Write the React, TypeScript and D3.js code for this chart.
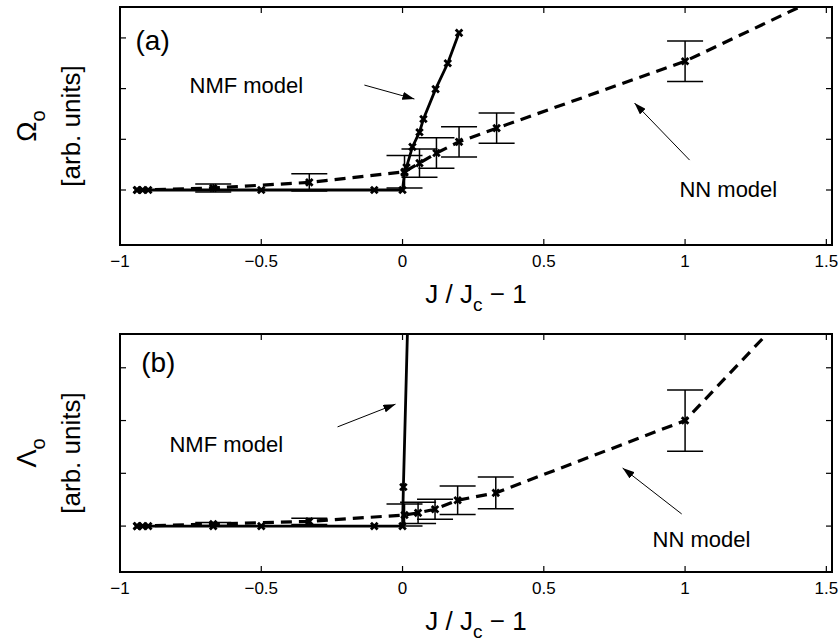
import React from 'react';
import * as d3 from 'd3';

const xTicks = [-1, -0.5, 0, 0.5, 1, 1.5];
const yTicks = [0, 1, 2, 3];

// panel (a): Omega_o
const nmfAX = [-0.94, -0.92, -0.9, -0.5, -0.1, 0, 0.007, 0.014, 0.035, 0.06, 0.074, 0.117, 0.16, 0.2];
const nmfAY = [0, 0, 0, 0, 0, 0, 0.34, 0.45, 0.85, 1.14, 1.4, 1.99, 2.5, 3.1];
const nnAX = [-0.94, -0.67, -0.33, 0.007, 0.06, 0.12, 0.2, 0.333, 1.0, 1.5];
const nnAY = [0, 0.04, 0.15, 0.36, 0.53, 0.73, 0.95, 1.22, 2.54, 3.86];
const nnAErr = [0, 0.08, 0.17, 0.32, 0.28, 0.3, 0.3, 0.3, 0.4, 0];

// panel (b): Lambda_o
const nmfBX = [-0.94, -0.92, -0.9, -0.67, -0.5, -0.1, 0, 0.003, 0.02];
const nmfBY = [0, 0, 0, 0, 0, 0, 0, 0.74, 4.21];
const nnBX = [-0.94, -0.67, -0.33, 0.007, 0.055, 0.115, 0.195, 0.33, 1.0, 1.5];
const nnBY = [0, 0.04, 0.09, 0.21, 0.25, 0.32, 0.49, 0.63, 2.0, 4.83];
const nnBErr = [0, 0.03, 0.06, 0.21, 0.2, 0.19, 0.27, 0.3, 0.58, 0];

// annotations in data units: [x, y]
const tagA = { text: '(a)', at: [-0.945, 2.76] };
const tagB = { text: '(b)', at: [-0.925, 2.92] };
const nmfLabelA = { text: 'NMF model', at: [-0.754, 1.91], from: [-0.135, 2.07], to: [0.042, 1.795] };
const nnLabelA = { text: 'NN model', at: [0.98, -0.14], from: [1.016, 0.59], to: [0.821, 1.716] };
const nmfLabelB = { text: 'NMF model', at: [-0.825, 1.4], from: [-0.23, 1.88], to: [-0.025, 2.31] };
const nnLabelB = { text: 'NN model', at: [0.885, -0.4], from: [0.988, 0.23], to: [0.779, 1.1] };

const FONT = '"Liberation Sans", Arial, Helvetica, sans-serif';
const W = 840;
const H = 642;

const x = d3.scaleLinear().domain([-1, 1.52]).range([120, 832]);

const panels = [
  {
    id: 'a', top: 7, bottom: 245, yDomain: [-1.085, 3.61], sym: 'Ω',
    nmf: nmfAX.map((v, i) => [v, nmfAY[i]]),
    nn: nnAX.map((v, i) => [v, nnAY[i], nnAErr[i]]),
    tag: tagA, notes: [nmfLabelA, nnLabelA],
  },
  {
    id: 'b', top: 334, bottom: 572, yDomain: [-0.87, 3.64], sym: 'Λ',
    nmf: nmfBX.map((v, i) => [v, nmfBY[i]]),
    nn: nnBX.map((v, i) => [v, nnBY[i], nnBErr[i]]),
    tag: tagB, notes: [nmfLabelB, nnLabelB],
  },
];

const cross = (s) => `M${-s},${-s}L${s},${s}M${-s},${s}L${s},${-s}`;
const fmt = d3.format('~g');

function Panel({ p }) {
  const y = d3.scaleLinear().domain(p.yDomain).range([p.bottom, p.top]);
  const line = d3.line().x((d) => x(d[0])).y((d) => y(d[1]));
  const [x0, x1] = x.range();
  const cx = (x0 + x1) / 2;
  const cy = (p.top + p.bottom) / 2;
  const clip = `clip-${p.id}`;
  return (
    <g>
      <defs>
        <clipPath id={clip}>
          <rect x={x0} y={p.top} width={x1 - x0} height={p.bottom - p.top} />
        </clipPath>
      </defs>

      <g clipPath={`url(#${clip})`}>
        {/* error bars */}
        {p.nn.filter((d) => d[2] > 0).map((d, i) => {
          const px = x(d[0]);
          const t = y(d[1] + d[2]);
          const b = y(d[1] - d[2]);
          return (
            <g key={i} stroke="#000" strokeWidth={1.5}>
              <line x1={px} x2={px} y1={t} y2={b} />
              <line x1={px - 18} x2={px + 18} y1={t} y2={t} />
              <line x1={px - 18} x2={px + 18} y1={b} y2={b} />
            </g>
          );
        })}
        <path d={line(p.nmf)} fill="none" stroke="#000" strokeWidth={2.8} />
        <path d={line(p.nn)} fill="none" stroke="#000" strokeWidth={3.2} strokeDasharray="11,7" />
        {p.nmf.concat(p.nn).map((d, i) => (
          <path key={i} transform={`translate(${x(d[0])},${y(d[1])})`} d={cross(3.3)}
            stroke="#000" strokeWidth={2.8} fill="none" />
        ))}
      </g>

      {/* box and ticks */}
      <rect x={x0} y={p.top} width={x1 - x0} height={p.bottom - p.top} fill="none" stroke="#000" strokeWidth={2} />
      {xTicks.map((t) => (
        <g key={t} stroke="#000" strokeWidth={1.2}>
          <line x1={x(t)} x2={x(t)} y1={p.bottom} y2={p.bottom - 6} />
          <line x1={x(t)} x2={x(t)} y1={p.top} y2={p.top + 6} />
        </g>
      ))}
      {yTicks.map((t) => (
        <g key={t} stroke="#000" strokeWidth={1.2}>
          <line x1={x0} x2={x0 + 6} y1={y(t)} y2={y(t)} />
          <line x1={x1} x2={x1 - 6} y1={y(t)} y2={y(t)} />
        </g>
      ))}
      {xTicks.map((t) => (
        <text key={t} x={x(t)} y={p.bottom + 22} textAnchor="middle" fontSize={17} fontFamily={FONT}>
          {fmt(t)}
        </text>
      ))}

      {/* axis labels */}
      <text x={cx} y={p.bottom + 58} textAnchor="middle" fontSize={26} fontFamily={FONT}>
        J / J<tspan dy={8} fontSize={19}>c</tspan><tspan dy={-8}> − 1</tspan>
      </text>
      <text transform={`translate(36,${cy}) rotate(-90)`} textAnchor="middle" fontSize={27} fontFamily={FONT}>
        {p.sym}<tspan dy={9} fontSize={20}>o</tspan>
      </text>
      <text transform={`translate(80,${cy}) rotate(-90)`} textAnchor="middle" fontSize={26} fontFamily={FONT}>
        [arb. units]
      </text>

      {/* annotations */}
      <text x={x(p.tag.at[0])} y={y(p.tag.at[1])} fontSize={28} fontFamily={FONT}>{p.tag.text}</text>
      {p.notes.map((n, i) => (
        <g key={i}>
          <text x={x(n.at[0])} y={y(n.at[1])} fontSize={22} fontFamily={FONT}>{n.text}</text>
          <line x1={x(n.from[0])} y1={y(n.from[1])} x2={x(n.to[0])} y2={y(n.to[1])}
            stroke="#000" strokeWidth={1} markerEnd="url(#arrowhead)" />
        </g>
      ))}
    </g>
  );
}

export default function App() {
  return (
    <svg width={W} height={H} style={{ position: 'absolute', left: 0, top: 0, background: '#fff' }}>
      <defs>
        <marker id="arrowhead" markerUnits="userSpaceOnUse" markerWidth={12} markerHeight={8}
          refX={12} refY={4} orient="auto">
          <path d="M0,0L12,4L0,8z" fill="#000" />
        </marker>
      </defs>
      {panels.map((p) => <Panel key={p.id} p={p} />)}
    </svg>
  );
}
